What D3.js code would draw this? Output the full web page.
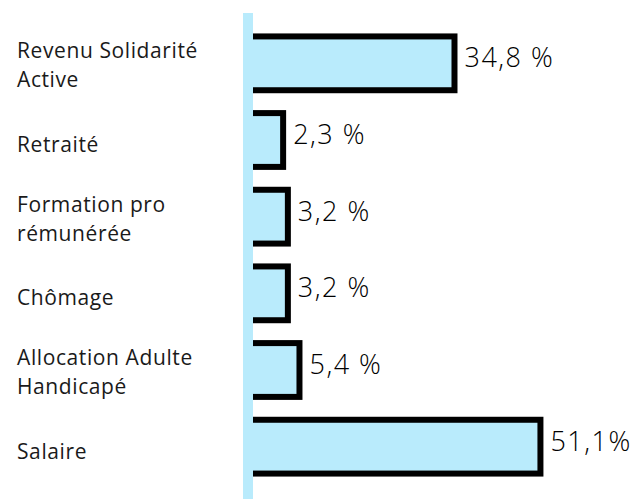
<!DOCTYPE html>
<html>
<head>
<meta charset="utf-8">
<script src="https://cdn.jsdelivr.net/npm/d3@7"></script>
<style>
  body { margin: 0; background: #fff; }
  text { font-family: "Open Sans", sans-serif; fill: #1a1a1a; }
</style>
</head>
<body>
<div id="chart"></div>
<script>
// data
let categories = [
  ["Revenu Solidarité", "Active"],
  ["Retraité"],
  ["Formation pro", "rémunérée"],
  ["Chômage"],
  ["Allocation Adulte", "Handicapé"],
  ["Salaire"]
];
let values = [34.8, 2.3, 3.2, 3.2, 5.4, 51.1];
let valueLabels = ["34,8 %", "2,3 %", "3,2 %", "3,2 %", "5,4 %", "51,1%"];

let width = 639, height = 499;
let x0 = 246; // bar origin (hidden behind the axis line)
let blue = "#b9ebfc";

let svg = d3.select("#chart").append("svg")
  .attr("width", width)
  .attr("height", height);

let keys = categories.map((d, i) => "c" + i);

// bars get a small stub so the tiny shares stay readable
let x = d3.scaleLinear().domain([0, 55]).range([x0 + 25, x0 + 25 + 290]);
let y = d3.scaleBand().domain(keys).range([25, 485]).paddingInner(0.22).paddingOuter(0.11);

let rows = svg.selectAll("g.row")
  .data(values)
  .enter()
  .append("g")
  .attr("class", "row");

rows.append("rect")
  .attr("x", x0)
  .attr("y", (d, i) => y(keys[i]) + 3)
  .attr("width", d => x(d) - x0)
  .attr("height", y.bandwidth() - 6)
  .attr("fill", blue)
  .attr("stroke", "#000")
  .attr("stroke-width", 6);

// value labels
rows.append("text")
  .attr("x", d => x(d) + 10)
  .attr("y", (d, i) => y(keys[i]) + y.bandwidth() / 2 + 4)
  .style("font-size", "27px")
  .style("font-weight", 300)
  .style("letter-spacing", "1.5px")
  .style("fill", "#000")
  .text((d, i) => valueLabels[i]);

// category labels (one or two lines)
let labels = svg.selectAll("text.cat")
  .data(categories)
  .enter()
  .append("text")
  .attr("class", "cat")
  .attr("x", 17)
  .attr("y", (d, i) => y(keys[i]) + y.bandwidth() / 2 + (d.length > 1 ? -5 : 12))
  .style("font-size", "21px")
  .style("letter-spacing", "0.6px");

labels.selectAll("tspan")
  .data(d => d)
  .enter()
  .append("tspan")
  .attr("x", 17)
  .attr("dy", (d, j) => j === 0 ? 0 : 29)
  .text(d => d);

// light blue vertical axis line drawn over the bar origins
svg.append("line")
  .attr("x1", 248).attr("x2", 248)
  .attr("y1", 13).attr("y2", 499)
  .attr("stroke", blue)
  .attr("stroke-width", 10);
</script>
</body>
</html>
